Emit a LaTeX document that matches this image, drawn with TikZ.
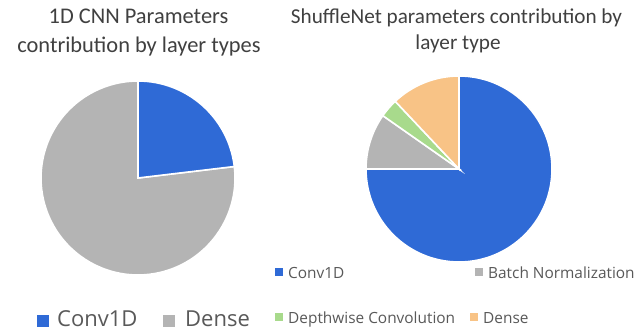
\documentclass[tikz,border=0pt]{standalone}
\usepackage{fontspec}
\setmainfont{Carlito}
\newfontfamily\legfont{Open Sans}
\definecolor{pblue}{RGB}{47,106,214}
\definecolor{pgray}{RGB}{180,180,180}
\definecolor{pgreen}{RGB}{168,218,140}
\definecolor{porange}{RGB}{248,195,134}
\definecolor{ttext}{RGB}{64,64,64}
\definecolor{ltext}{RGB}{89,89,89}
\begin{document}
\begin{tikzpicture}[x=1pt,y=1pt,
  slice/.style={draw=white,line width=1.6pt,line join=miter},
  ttl/.style={anchor=base,inner sep=0pt,text=ttext},
  legbig/.style={anchor=base west,inner sep=0pt,text=ltext,font=\legfont\fontsize{22}{24}\selectfont},
  legsmall/.style={anchor=base west,inner sep=0pt,text=ltext,font=\legfont\fontsize{15.4}{17}\selectfont},
  mk/.style={minimum width=#1,minimum height=#1,inner sep=0pt,draw=none}]
\useasboundingbox (0,0) rectangle (639,331);
\fill[white] (0,0) rectangle (639,331);
% left pie
\coordinate (lc) at (138,153);
\fill[pgray,slice] (lc) -- ++(6.8:97) arc[start angle=6.8,end angle=-270,radius=97] -- cycle;
\fill[pblue,slice] (lc) -- ++(90:97) arc[start angle=90,end angle=6.8,radius=97] -- cycle;
% right pie
\coordinate (rc) at (459,162);
\fill[pblue,slice] (rc) -- ++(90:93) arc[start angle=90,end angle=-180,radius=93] -- cycle;
\fill[pgray,slice] (rc) -- ++(180:93) arc[start angle=180,end angle=145,radius=93] -- cycle;
\fill[pgreen,slice] (rc) -- ++(145:93) arc[start angle=145,end angle=133.3,radius=93] -- cycle;
\fill[porange,slice] (rc) -- ++(133.3:93) arc[start angle=133.3,end angle=90,radius=93] -- cycle;
% titles
\node[ttl,font=\fontsize{22.4}{26}\selectfont] (lt1) at (138.5,307) {1D CNN Parameters};
\node[ttl,font=\fontsize{22.4}{26}\selectfont] (lt2) at (139,278) {contribution by layer types};
\node[ttl,font=\fontsize{21.2}{25}\selectfont] (rt1) at (456.5,307) {ShuffleNet parameters contribution by};
\node[ttl,font=\fontsize{21.2}{25}\selectfont] (rt2) at (458,281) {layer type};
% left legend
\node[mk=12pt,fill=pblue] (lm1) at (42.5,10) {};
\node[legbig] (ll1) at (57,4.5) {Conv1D};
\node[mk=12pt,fill=pgray] (lm2) at (169,10) {};
\node[legbig] (ll2) at (185,4.5) {Dense};
% right legend
\node[mk=8pt,fill=pblue] (rm1) at (279,59) {};
\node[legsmall] (rl1) at (288,52) {Conv1D};
\node[mk=8pt,fill=pgray] (rm2) at (479,59) {};
\node[legsmall] (rl2) at (488,52) {Batch Normalization};
\node[mk=8pt,fill=pgreen] (rm3) at (279,14) {};
\node[legsmall] (rl3) at (288,7) {Depthwise Convolution};
\node[mk=8pt,fill=porange] (rm4) at (474,14) {};
\node[legsmall] (rl4) at (483,7) {Dense};
\end{tikzpicture}
\end{document}
